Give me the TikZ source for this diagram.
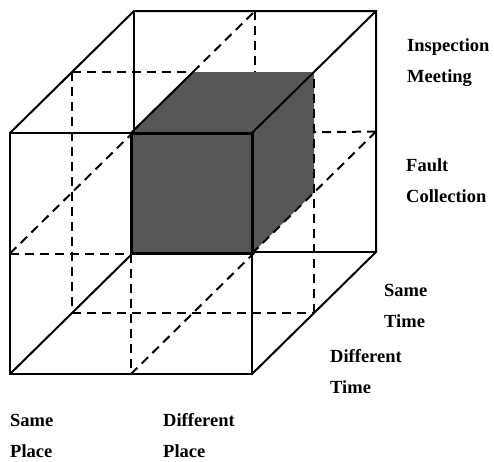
\documentclass[tikz,border=0pt]{standalone}
\usepackage{fontspec}
\setmainfont{Liberation Serif}
\usetikzlibrary{calc}
\tikzset{
  cubeedge/.style={line width=2pt},
  hiddenedge/.style={line width=2pt, dash pattern=on 9pt off 6pt},
  shadedcube/.style={fill=black!66, draw=none},
  shadedfront/.style={line width=3pt},
  axislabel/.style={anchor=base west, inner sep=0pt, align=left,
    font=\fontsize{18.5}{31}\selectfont\bfseries}
}

\begin{document}
\begin{tikzpicture}[x=1pt, y=-1pt]
    \useasboundingbox (0,0) rectangle (494,461);

    % grid points of the 2x2x2 cube: p<x><y><z>
    \foreach \i in {0,1,2}
      \foreach \j in {0,1,2}
        \foreach \k in {0,1,2}
          \coordinate (p\i\j\k) at ({10+121*\i+62*\k},{374-120.5*\j-61*\k});

    % hidden line behind the shaded cube
    \draw[hiddenedge] (p122) -- (p112);

    % shaded cell: same place, same time
    \fill[shadedcube] (p110) -- (p210) -- (p211) -- (p221) -- (p121) -- (p120) -- cycle;

    % dashed dividers
    \draw[hiddenedge] (p010) -- (p110);
    \draw[hiddenedge] (p110) -- (p100);
    \draw[hiddenedge] (p021) -- (p121);
    \draw[hiddenedge] (p121) -- (p122);
    \draw[hiddenedge] (p021) -- (p001);
    \draw[hiddenedge] (p001) -- (p201);
    \draw[hiddenedge] (p201) -- (p221);
    \draw[hiddenedge] (p010) -- (p012);
    \draw[hiddenedge] (p100) -- (p102);
    \draw[hiddenedge] (p210) -- (p212);
    \draw[hiddenedge] (p212) -- ($(p211)!.5!(p221)$);

    % outer cube
    \draw[cubeedge] (p000) -- (p020) -- (p220) -- (p200) -- cycle;
    \draw[cubeedge] (p020) -- (p022) -- (p222) -- (p202) -- (p200);
    \draw[cubeedge] (p220) -- (p222);
    \draw[cubeedge] (p000) -- (p002);
    \draw[cubeedge] (p022) -- (p012);
    \draw[cubeedge] (p102) -- (p202);
    \draw[cubeedge] (p120) -- (p121);

    % front of shaded cell
    \draw[shadedfront] (p110) rectangle (p220);

    % labels (placed at the baseline of their last line)
    \node[axislabel] (inspect) at (407,82) {Inspection\\Meeting};
    \node[axislabel] (fault) at (406,202) {Fault\\Collection};
    \node[axislabel] (sametime) at (384,327) {Same\\Time};
    \node[axislabel] (difftime) at (330,393) {Different\\Time};
    \node[axislabel] (sameplace) at (10,457) {Same\\Place};
    \node[axislabel] (diffplace) at (163,457) {Different\\Place};
\end{tikzpicture}
\end{document}
